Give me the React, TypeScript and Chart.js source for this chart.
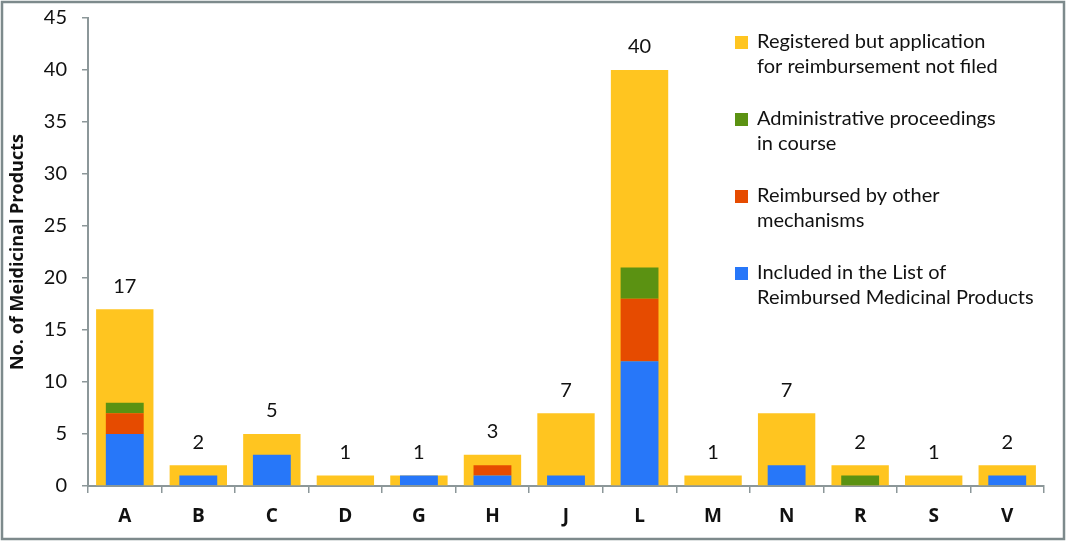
import React, { useEffect, useRef } from "react";
import { Chart, registerables } from "chart.js";

Chart.register(...registerables);

const categories = ["A", "B", "C", "D", "G", "H", "J", "L", "M", "N", "R", "S", "V"];
const totals = [17, 2, 5, 1, 1, 3, 7, 40, 1, 7, 2, 1, 2];
const includedList = [5, 1, 3, 0, 1, 1, 1, 12, 0, 2, 0, 0, 1];
const reimbursedOther = [2, 0, 0, 0, 0, 1, 0, 6, 0, 0, 0, 0, 0];
const adminProceedings = [1, 0, 0, 0, 0, 0, 0, 3, 0, 0, 1, 0, 0];
const yTicks = [0, 5, 10, 15, 20, 25, 30, 35, 40, 45];

const legendItems = [
  { color: "#FFC520", lines: ["Registered but application", "for reimbursement not filed"] },
  { color: "#5B9212", lines: ["Administrative proceedings", "in course"] },
  { color: "#E64B00", lines: ["Reimbursed by other", "mechanisms"] },
  { color: "#2777F9", lines: ["Included in the List of", "Reimbursed Medicinal Products"] },
];

const FONT = "Lato";
const BOLD_FONT = "'Open Sans'";

export default function App() {
  const ref = useRef<HTMLCanvasElement | null>(null);
  useEffect(() => {
    document.body.style.margin = "0";
    const canvas = ref.current;
    if (!canvas) return;

    const framePlugin = {
      id: "frame",
      beforeDraw(chart: any) {
        const { ctx, width, height } = chart;
        ctx.save();
        ctx.fillStyle = "#ffffff";
        ctx.fillRect(0, 0, width, height);
        ctx.strokeStyle = "#7d8a8c";
        ctx.lineWidth = 2.5;
        ctx.strokeRect(2, 2, width - 4, height - 4);
        ctx.restore();
      },
      afterDatasetsDraw(chart: any) {
        const { ctx } = chart;
        const meta = chart.getDatasetMeta(3);
        ctx.save();
        ctx.fillStyle = "#111";
        ctx.font = `20px ${FONT}`;
        ctx.textAlign = "center";
        ctx.textBaseline = "middle";
        meta.data.forEach((bar: any, i: number) => {
          ctx.fillText(String(totals[i]), bar.x, bar.y - 23);
        });
        // legend
        let y0 = 42;
        legendItems.forEach((it) => {
          ctx.fillStyle = it.color;
          ctx.fillRect(735, y0 - 6, 13, 13);
          ctx.fillStyle = "#111";
          ctx.textAlign = "left";
          it.lines.forEach((ln, k) => {
            ctx.fillText(ln, 757, y0 + k * 25);
          });
          y0 += 77;
        });
        ctx.restore();
      },
    };

    const chart = new Chart(canvas, {
      type: "bar",
      data: {
        labels: categories,
        datasets: [
          { label: "Included in the List of Reimbursed Medicinal Products", data: includedList, backgroundColor: "#2777F9", stack: "inner", grouped: false, barPercentage: 0.515, categoryPercentage: 1 },
          { label: "Reimbursed by other mechanisms", data: reimbursedOther, backgroundColor: "#E64B00", stack: "inner", grouped: false, barPercentage: 0.515, categoryPercentage: 1 },
          { label: "Administrative proceedings in course", data: adminProceedings, backgroundColor: "#5B9212", stack: "inner", grouped: false, barPercentage: 0.515, categoryPercentage: 1 },
          { label: "Registered but application for reimbursement not filed", data: totals, backgroundColor: "#FFC520", stack: "total", grouped: false, barPercentage: 0.78, categoryPercentage: 1 },
        ],
      },
      options: {
        responsive: false,
        maintainAspectRatio: false,
        animation: false,
        layout: { padding: { left: 0, right: 22, top: 18, bottom: 0 } },
        plugins: { legend: { display: false }, tooltip: { enabled: false } },
        scales: {
          x: {
            stacked: true,
            offset: true,
            grid: { display: true, drawOnChartArea: false, offset: true, tickLength: 7, color: "#8c9799", lineWidth: 1.5 },
            border: { display: true, color: "#8c9799", width: 2 },
            ticks: { color: "#111", font: { family: BOLD_FONT, size: 19, weight: "bold" }, padding: 12 },
            afterFit(s: any) { s.height = 55; },
          },
          y: {
            stacked: true,
            min: 0,
            max: 45,
            afterBuildTicks(s: any) { s.ticks = yTicks.map((v) => ({ value: v })); },
            grid: { display: true, drawOnChartArea: false, tickLength: 6, color: "#8c9799", lineWidth: 1.5 },
            border: { display: true, color: "#8c9799", width: 2 },
            ticks: { color: "#111", font: { family: FONT, size: 20 }, padding: 15 },
            title: { display: true, text: "No. of Meidicinal Products", color: "#111", font: { family: BOLD_FONT, size: 18, weight: "bold" }, padding: { top: 7, bottom: 0 } },
            afterFit(s: any) { s.width = 88; s.paddingTop = 0; s.paddingBottom = 0; },
          },
        },
      },
      plugins: [framePlugin],
    });
    return () => chart.destroy();
  }, []);
  return (
    <div style={{ width: 1066, height: 541 }}>
      <canvas ref={ref} width={1066} height={541} />
    </div>
  );
}
